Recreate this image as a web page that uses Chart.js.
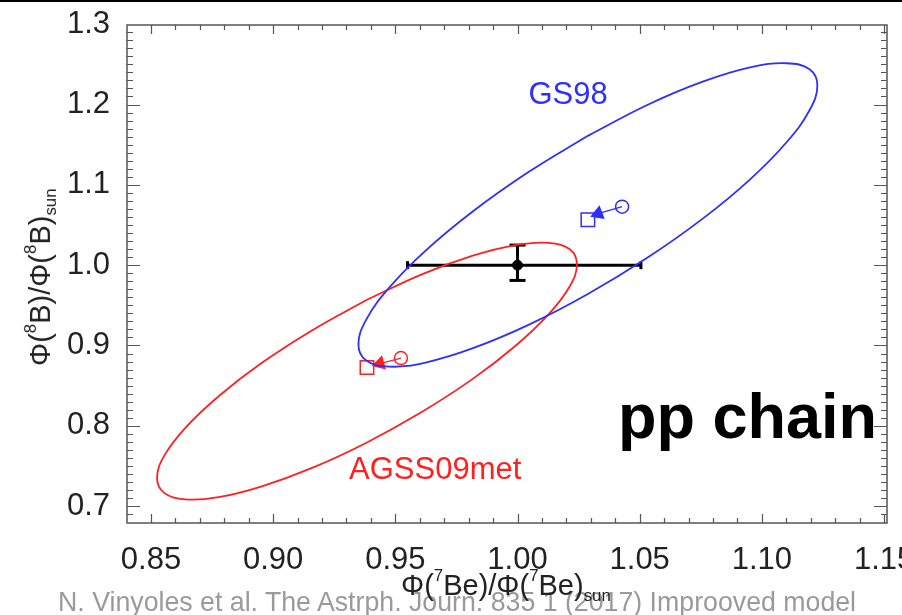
<!DOCTYPE html>
<html>
<head>
<meta charset="utf-8">
<script src="https://cdn.jsdelivr.net/npm/chart.js@4.4.1/dist/chart.umd.min.js"></script>
<style>
  body { margin: 0; background: #fff; }
  #wrap { position: relative; width: 902px; height: 615px; overflow: hidden; }
  #chart { position: absolute; left: 0; top: 0; }
  #topline { position: absolute; left: 0; top: 0; width: 902px; height: 2px; background: #000; }
  .txt { position: absolute; white-space: nowrap; line-height: 1; font-family: "Liberation Sans", Arial, sans-serif; }
  .atitle { color: #222; font-size: 29px; }
  .atitle sup, .atitle sub { font-size: 0.58em; line-height: 0; position: relative; vertical-align: baseline; }
  .atitle sup { top: -0.85em; }
  .atitle sub { top: 0.35em; }
  #pp { font-size: 63px; font-weight: bold; color: #000; }
  #caption { font-size: 26.5px; color: #9a9a9a; }
</style>
</head>
<body>
<div id="wrap">
  <canvas id="chart" width="902" height="615"></canvas>
  <div id="topline"></div>
  <div id="caption" class="txt">N. Vinyoles et al. The Astrph. Journ. 835 1 (2017) Improoved model</div>
  <div id="ytitle" class="txt atitle">Φ(<sup>8</sup>B)/Φ(<sup>8</sup>B)<sub>sun</sub></div>
  <div id="xtitle" class="txt atitle">Φ(<sup>7</sup>Be)/Φ(<sup>7</sup>Be)<sub>sun</sub></div>
  <div id="pp" class="txt">pp chain</div>
</div>
<script>
// tick labels
const xTickValues = [0.85, 0.90, 0.95, 1.00, 1.05, 1.10, 1.15];
const yTickValues = [0.7, 0.8, 0.9, 1.0, 1.1, 1.2, 1.3];

// GS98 contour, points read around the blue ellipse
const gs98EllipseX = [1.0288, 1.0045, 0.9818, 0.9624, 0.9475, 0.9381, 0.9349, 0.9381, 0.9475, 0.9624, 0.9818, 1.0045,
                      1.0288, 1.0531, 1.0758, 1.0952, 1.1101, 1.1195, 1.1227, 1.1195, 1.1101, 1.0952, 1.0758, 1.0531];
const gs98EllipseY = [1.1610, 1.1159, 1.0671, 1.0181, 0.9720, 0.9322, 0.9012, 0.8812, 0.8736, 0.8788, 0.8966, 0.9256,
                      0.9640, 1.0091, 1.0579, 1.1069, 1.1530, 1.1928, 1.2238, 1.2438, 1.2514, 1.2462, 1.2284, 1.1994];

// AGSS09met contour, points read around the red ellipse
const agssEllipseX = [0.9384, 0.9162, 0.8954, 0.8777, 0.8640, 0.8554, 0.8525, 0.8554, 0.8640, 0.8777, 0.8954, 0.9162,
                      0.9384, 0.9606, 0.9814, 0.9991, 1.0128, 1.0214, 1.0243, 1.0214, 1.0128, 0.9991, 0.9814, 0.9606];
const agssEllipseY = [0.9569, 0.9194, 0.8784, 0.8368, 0.7972, 0.7625, 0.7350, 0.7165, 0.7084, 0.7112, 0.7247, 0.7479,
                      0.7793, 0.8168, 0.8578, 0.8994, 0.9390, 0.9737, 1.0012, 1.0197, 1.0278, 1.0250, 1.0115, 0.9883];

// model points: square, triangle, circle
const gs98MarkX = [1.0288, 1.0330, 1.0428];
const gs98MarkY = [1.0566, 1.0641, 1.0728];
const agssMarkX = [0.9384, 0.9437, 0.9523];
const agssMarkY = [0.8725, 0.8775, 0.8843];

// measured solar value with error bars
const sunX = 1.0;
const sunY = 1.0;
const sunXErr = [0.955, 1.0505];
const sunYErr = [0.981, 1.025];

const BLUE = "#2e2eff";
const RED = "#ff2020";
const FONT = '"Liberation Sans", Arial, sans-serif';

function zip(xs, ys) {
    return xs.map((x, i) => ({ x: x, y: ys[i] }));
}
function closed(xs, ys) {
    const pts = zip(xs, ys);
    pts.push(pts[0]);
    return pts;
}

function ellipse(xs, ys, color) {
    return {
        data: closed(xs, ys),
        borderColor: color,
        borderWidth: 1.8,
        pointRadius: 0,
        tension: 0.4,
        fill: false,
    };
}

function markers(xs, ys, color, rot) {
    return {
        data: zip(xs, ys),
        showLine: false,
        pointStyle: ["rect", "triangle", "circle"],
        pointRadius: [9.5, 7, 6.5],
        pointRotation: [0, rot, 0],
        pointBorderColor: color,
        pointBorderWidth: 1.5,
        pointBackgroundColor: ["rgba(0,0,0,0)", color, "rgba(0,0,0,0)"],
    };
}

function connector(xs, ys, color) {
    return {
        data: zip(xs.slice(1), ys.slice(1)),
        borderColor: color,
        borderWidth: 1.3,
        pointRadius: 0,
    };
}

// labels placed in data coordinates
const modelLabels = [
    { text: "GS98", x: 1.0207, y: 1.2108, color: BLUE },
    { text: "AGSS09met", x: 0.9663, y: 0.7444, color: RED },
];

const frame = {
    id: "frame",
    afterDraw(chart) {
        const { ctx, chartArea: a, scales: { x, y } } = chart;
        ctx.save();
        ctx.strokeStyle = "#555";
        ctx.lineWidth = 1.5;
        ctx.strokeRect(a.left, a.top, a.right - a.left, a.bottom - a.top);

        // inward ticks on all four sides
        ctx.lineWidth = 1.2;
        ctx.beginPath();
        for (let i = 85; i <= 115; i++) {
            const px = Math.round(x.getPixelForValue(i / 100)) + 0.5;
            const len = i % 5 === 0 ? 9 : 5;
            ctx.moveTo(px, a.bottom);
            ctx.lineTo(px, a.bottom - len);
            ctx.moveTo(px, a.top);
            ctx.lineTo(px, a.top + len);
        }
        for (let i = 69; i <= 129; i++) {
            const py = Math.round(y.getPixelForValue(i / 100)) + 0.5;
            const len = i % 10 === 0 ? 13 : 6;
            ctx.moveTo(a.left, py);
            ctx.lineTo(a.left + len, py);
            ctx.moveTo(a.right, py);
            ctx.lineTo(a.right - len, py);
        }
        ctx.stroke();

        ctx.font = "31px " + FONT;
        ctx.textAlign = "center";
        ctx.textBaseline = "middle";
        modelLabels.forEach((l) => {
            ctx.fillStyle = l.color;
            ctx.fillText(l.text, x.getPixelForValue(l.x), y.getPixelForValue(l.y));
        });
        ctx.restore();
    },
};

const tickFont = { family: FONT, size: 31 };

new Chart(document.getElementById("chart"), {
    type: "line",
    data: {
        datasets: [
            ellipse(gs98EllipseX, gs98EllipseY, BLUE),
            ellipse(agssEllipseX, agssEllipseY, RED),
            connector(gs98MarkX, gs98MarkY, BLUE),
            connector(agssMarkX, agssMarkY, RED),
            markers(gs98MarkX, gs98MarkY, BLUE, 249),
            markers(agssMarkX, agssMarkY, RED, 254),
            {
                // horizontal error bar
                data: [{ x: sunXErr[0], y: sunY }, { x: sunXErr[1], y: sunY }],
                borderColor: "#000",
                borderWidth: 3,
                pointStyle: "line",
                pointRadius: 4,
                pointRotation: 90,
                pointBorderColor: "#000",
                pointBorderWidth: 3,
            },
            {
                // vertical error bar
                data: [{ x: sunX, y: sunYErr[0] }, { x: sunX, y: sunYErr[1] }],
                borderColor: "#000",
                borderWidth: 3,
                pointStyle: "line",
                pointRadius: 8,
                pointBorderColor: "#000",
                pointBorderWidth: 3,
            },
            {
                data: [{ x: sunX, y: sunY }],
                showLine: false,
                pointRadius: 5,
                pointBackgroundColor: "#000",
                pointBorderColor: "#000",
            },
        ],
    },
    options: {
        responsive: false,
        animation: false,
        devicePixelRatio: 1,
        layout: { padding: { top: 25, right: 15, bottom: 0, left: 0 } },
        plugins: { legend: { display: false }, tooltip: { enabled: false } },
        scales: {
            x: {
                type: "linear",
                min: 0.8402,
                max: 1.1512,
                grid: { display: false },
                border: { display: false },
                ticks: {
                    font: tickFont,
                    color: "#222",
                    padding: 11,
                    autoSkip: false,
                    maxRotation: 0,
                    callback: (v) => v.toFixed(2),
                },
                afterBuildTicks: (s) => { s.ticks = xTickValues.map((v) => ({ value: v })); },
                afterFit: (s) => { s.height = 92; s.paddingLeft = 0; s.paddingRight = 0; },
            },
            y: {
                type: "linear",
                min: 0.679,
                max: 1.299,
                grid: { display: false },
                border: { display: false },
                ticks: {
                    font: tickFont,
                    color: "#222",
                    padding: 9,
                    autoSkip: false,
                    callback: (v) => v.toFixed(1),
                },
                afterBuildTicks: (s) => { s.ticks = yTickValues.map((v) => ({ value: v })); },
                afterFit: (s) => { s.width = 127; s.paddingTop = 0; s.paddingBottom = 0; },
            },
        },
    },
    plugins: [frame],
});

// place html text by its baseline
function place(id, x, baseline, opts) {
    const el = document.getElementById(id);
    const fs = parseFloat(getComputedStyle(el).fontSize);
    const asc = 0.8465 * fs;
    const w = el.offsetWidth;
    const left = opts.center ? x - w / 2 : x;
    el.style.left = left + "px";
    el.style.top = baseline - asc + "px";
    if (opts.rotate) {
        el.style.transformOrigin = w / 2 + "px " + asc + "px";
        el.style.transform = "rotate(-90deg)";
    }
}

// fit caption to its width in the slide
const cap = document.getElementById("caption");
cap.style.fontSize = (26.5 * 799 / cap.offsetWidth) + "px";

place("caption", 58, 612, {});
place("pp", 618, 438, {});
place("xtitle", 506, 596, { center: true });
place("ytitle", 50, 278, { center: true, rotate: true });
</script>
</body>
</html>
